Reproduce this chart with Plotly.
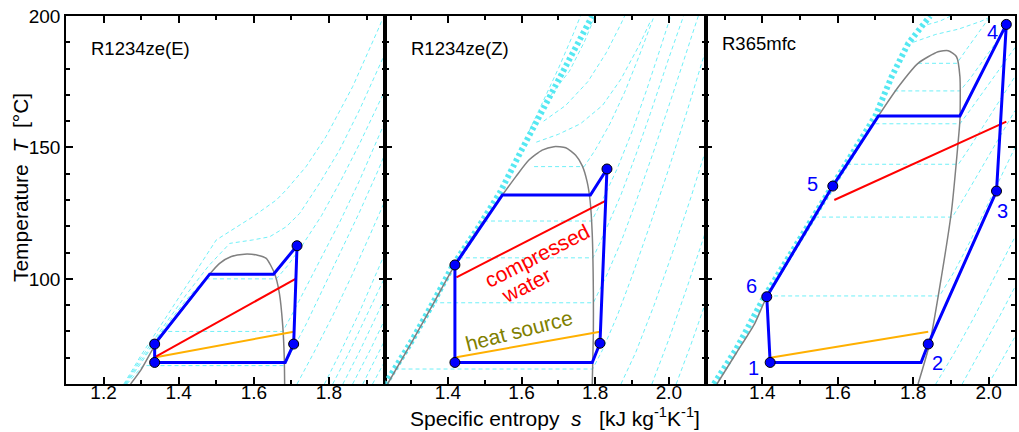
import plotly.graph_objects as go

# ---------------- data ----------------
# panel 1 : R1234ze(E)
p1_cycle_s = [1.336, 1.336, 1.4825, 1.6525, 1.715, 1.706, 1.6835, 1.336]
p1_cycle_T = [68.2, 75.2, 101.8, 101.8, 112.6, 75.2, 68.2, 68.2]
p1_pts_s = [1.336, 1.336, 1.715, 1.706]
p1_pts_T = [68.2, 75.2, 112.6, 75.2]
p1_dome_s = [1.272, 1.30, 1.336, 1.38, 1.43, 1.4825, 1.509, 1.54, 1.575, 1.61, 1.633, 1.655, 1.668, 1.677, 1.681, 1.682]
p1_dome_T = [60, 65.5, 74.5, 83, 92, 101.8, 105.9, 108.5, 109.4, 109, 107.8, 102.1, 94.5, 82, 70, 60]
p1_water_s = [1.339, 1.711]
p1_water_T = [70.4, 100]
p1_source_s = [1.339, 1.706]
p1_source_T = [70.2, 79.9]
p1_iso_s = [
    [1.262, 1.305, 1.681, 1.70, 1.74, 1.78, 1.83, 1.88, 1.93, 1.95],
    [1.260, 1.30, 1.355, 1.677, 1.70, 1.74, 1.78, 1.83, 1.88, 1.93, 1.95],
    [1.258, 1.30, 1.36, 1.42, 1.47, 1.66, 1.69, 1.73, 1.78, 1.83, 1.88, 1.93, 1.95],
    [1.256, 1.30, 1.36, 1.42, 1.48, 1.536, 1.597, 1.642, 1.686, 1.722, 1.775, 1.828, 1.881, 1.934, 1.95],
    [1.254, 1.30, 1.36, 1.42, 1.46, 1.50, 1.597, 1.660, 1.686, 1.739, 1.792, 1.863, 1.934, 1.94],
    [1.715, 1.76, 1.81, 1.86, 1.91, 1.95],
    [1.788, 1.83, 1.88, 1.93, 1.95],
    [1.810, 1.85, 1.90, 1.95],
    [1.837, 1.88, 1.93, 1.95],
    [1.863, 1.91, 1.95],
    [1.890, 1.93, 1.95],
    [1.916, 1.95],
]
p1_iso_T = [
    [60, 67, 67, 72, 83, 95, 110, 125, 141, 148],
    [60, 68, 80, 80, 86, 97, 108, 122, 137, 153, 160],
    [60, 69, 81, 92, 100, 100, 105, 113, 124, 137, 151, 166, 172],
    [60, 70, 82, 94, 105, 113.5, 114.8, 116, 119.8, 124.9, 136.4, 149, 164.2, 180.7, 186],
    [60, 71, 84, 97, 106, 114.8, 123.6, 130, 133.8, 142.7, 154.1, 173.1, 195.9, 198],
    [60, 72, 86, 101, 117, 130],
    [60, 72, 87, 103, 110],
    [60, 71, 86, 101],
    [60, 72, 87, 93],
    [60, 73, 85],
    [60, 71, 77],
    [60, 69],
]

# panel 2 : R1234ze(Z)
p2_cycle_s = [1.419, 1.419, 1.548, 1.787, 1.832, 1.813, 1.792, 1.419]
p2_cycle_T = [68.2, 105.3, 131.9, 131.9, 141.8, 75.5, 68.2, 68.2]
p2_pts_s = [1.419, 1.419, 1.832, 1.813]
p2_pts_T = [68.2, 105.3, 141.8, 75.5]
p2_dome_s = [1.236, 1.30, 1.36, 1.419, 1.48, 1.548, 1.585, 1.62, 1.656, 1.688, 1.72, 1.747, 1.765, 1.778, 1.786, 1.792, 1.795, 1.795, 1.792]
p2_dome_T = [60, 75.5, 90.5, 105.3, 118.5, 131.9, 139, 145.2, 149, 150.3, 149.9, 147, 143, 137, 130, 117, 95, 79, 60]
p2_water_s = [1.423, 1.828]
p2_water_T = [100.6, 129.7]
p2_source_s = [1.423, 1.813]
p2_source_T = [70.2, 79.9]
p2_band_s = [1.230, 1.30, 1.36, 1.413, 1.48, 1.542, 1.60, 1.661, 1.72, 1.792]
p2_band_T = [60, 76, 91, 105, 119, 133, 149, 165.5, 181, 200]
p2_iso_s = [
    [1.634, 1.77, 1.80, 1.84, 1.88, 1.92, 1.96],
    [1.498, 1.79, 1.82, 1.86, 1.90, 1.94, 1.98, 2.005],
    [1.43, 1.794, 1.83, 1.87, 1.91, 1.95, 2.00, 2.04],
    [1.36, 1.795, 1.83, 1.87, 1.91, 1.96, 2.01, 2.06, 2.08],
    [1.255, 1.793, 1.82, 1.86, 1.90, 1.95, 2.00, 2.05, 2.10],
    [1.87, 1.91, 1.96, 2.01, 2.06, 2.10],
    [1.954, 2.00, 2.05, 2.10],
    [2.02, 2.06, 2.10],
    [1.64, 1.70, 1.76, 1.82, 1.87, 1.92, 1.95],
    [1.66, 1.72, 1.78, 1.83, 1.87, 1.88],
    [1.68, 1.73, 1.77, 1.80],
    [1.62, 1.66, 1.70, 1.74, 1.76],
]
p2_iso_T = [
    [142.7, 142.7, 149, 159, 171, 185, 200],
    [122, 122, 130, 142, 156, 172, 189, 200],
    [108, 108, 119, 132, 147, 163, 184, 200],
    [90.9, 90.9, 101, 114, 129, 149, 170, 192, 200],
    [65.7, 65.7, 73, 86, 101, 121, 142, 164, 187],
    [60, 72, 90, 110, 131, 149],
    [60, 77, 97, 118],
    [60, 75, 91],
    [152, 155, 159, 166, 176, 189, 198],
    [160, 166, 175, 186, 197, 200],
    [170, 179, 190, 200],
    [156, 168, 180, 193, 200],
]

# panel 3 : R365mfc
p3_cycle_s = [1.421, 1.412, 1.587, 1.708, 1.924, 2.047, 2.021, 1.84, 1.821, 1.421]
p3_cycle_T = [68.2, 93.2, 135.3, 162, 162, 196.8, 133.4, 75.2, 68.2, 68.2]
p3_pts_s = [1.421, 1.84, 2.021, 2.047, 1.587, 1.412]
p3_pts_T = [68.2, 75.2, 133.4, 196.8, 135.3, 93.2]
p3_pt_labels = ["1", "2", "3", "4", "5", "6"]
p3_lab_s = [1.377, 1.864, 2.038, 2.010, 1.533, 1.3725]
p3_lab_T = [66, 67.9, 125.8, 194, 136, 97.4]
p3_dome_s = [1.28, 1.33, 1.38, 1.412, 1.50, 1.587, 1.65, 1.708, 1.761, 1.813, 1.866, 1.893, 1.915, 1.924, 1.924, 1.919, 1.902, 1.875, 1.844, 1.813]
p3_dome_T = [60, 71.5, 83, 93.2, 114, 135.3, 149, 162, 173.1, 182, 186.4, 186.8, 184.5, 176.9, 160.4, 151.6, 126.2, 100.8, 75.5, 60]
p3_water_s = [1.591, 2.047]
p3_water_T = [130, 159.8]
p3_source_s = [1.421, 1.84]
p3_source_T = [70, 79.9]
p3_band_s = [1.272, 1.33, 1.405, 1.50, 1.582, 1.70, 1.743, 1.787, 1.845]
p3_band_T = [60, 73, 93, 115, 135, 162, 176.9, 189.6, 200]
p3_iso_s = [
    [1.813, 1.916, 1.94, 1.97, 2.00],
    [1.75, 1.924, 1.95, 1.98, 2.02, 2.06],
    [1.70, 1.924, 1.95, 1.98, 2.02, 2.07],
    [1.625, 1.92, 1.95, 1.99, 2.03, 2.07],
    [1.54, 1.904, 1.94, 1.98, 2.02, 2.07],
    [1.413, 1.87, 1.91, 1.95, 1.99, 2.03, 2.07],
    [1.86, 1.91, 1.96, 2.01, 2.07],
    [1.93, 1.98, 2.03, 2.07],
    [2.00, 2.04, 2.07],
    [1.80, 1.86, 1.92, 1.98, 2.01],
    [1.82, 1.87, 1.90],
]
p3_iso_T = [
    [182, 182, 187, 193, 199],
    [171.5, 171.5, 176, 182, 190, 198],
    [159, 159, 164, 170, 178, 188],
    [143.6, 143.6, 150, 159, 168, 177],
    [123.5, 123.5, 132, 142, 152, 164],
    [93.5, 93.5, 103, 114, 126, 138, 150],
    [60, 72, 85, 99, 116],
    [60, 73, 86, 97],
    [60, 70, 78],
    [190, 193, 195, 198, 200],
    [196, 198, 200],
]

fluid_names = ["R1234ze(E)", "R1234ze(Z)", "R365mfc"]
x_ranges = [[1.1, 1.95], [1.23, 2.1], [1.25, 2.07]]
T_range = [60, 200]

# ---------------- styles ----------------
FONT = "Arial, Liberation Sans, sans-serif"
ISO_COLOR = "#6ff0f8"
BAND_COLOR = "#55e8f2"
BLUE = "#0000ff"

fig = go.Figure()

panels = [
    dict(cs=p1_cycle_s, cT=p1_cycle_T, ps=p1_pts_s, pT=p1_pts_T, ds=p1_dome_s, dT=p1_dome_T,
         ws=p1_water_s, wT=p1_water_T, ss=p1_source_s, sT=p1_source_T, iso_s=p1_iso_s, iso_T=p1_iso_T,
         bs=None, bT=None),
    dict(cs=p2_cycle_s, cT=p2_cycle_T, ps=p2_pts_s, pT=p2_pts_T, ds=p2_dome_s, dT=p2_dome_T,
         ws=p2_water_s, wT=p2_water_T, ss=p2_source_s, sT=p2_source_T, iso_s=p2_iso_s, iso_T=p2_iso_T,
         bs=p2_band_s, bT=p2_band_T),
    dict(cs=p3_cycle_s, cT=p3_cycle_T, ps=p3_pts_s, pT=p3_pts_T, ds=p3_dome_s, dT=p3_dome_T,
         ws=p3_water_s, wT=p3_water_T, ss=p3_source_s, sT=p3_source_T, iso_s=p3_iso_s, iso_T=p3_iso_T,
         bs=p3_band_s, bT=p3_band_T),
]

for i, p in enumerate(panels):
    xa = "x" if i == 0 else f"x{i+1}"
    ya = "y" if i == 0 else f"y{i+1}"
    common = dict(xaxis=xa, yaxis=ya, showlegend=False, hoverinfo="skip")
    for s_list, t_list in zip(p["iso_s"], p["iso_T"]):
        fig.add_trace(go.Scatter(x=s_list, y=t_list, mode="lines",
                                 line=dict(color=ISO_COLOR, width=1, dash="4px,3px"), **common))
    if p["bs"] is not None:
        fig.add_trace(go.Scatter(x=p["bs"], y=p["bT"], mode="lines",
                                 line=dict(color=BAND_COLOR, width=6, dash="3px,3px"), **common))
    fig.add_trace(go.Scatter(x=p["ds"], y=p["dT"], mode="lines", line_shape="spline",
                             line=dict(color="#808080", width=1.5, smoothing=0.6), **common))
    fig.add_trace(go.Scatter(x=p["ss"], y=p["sT"], mode="lines",
                             line=dict(color="#ffb000", width=2), **common))
    fig.add_trace(go.Scatter(x=p["ws"], y=p["wT"], mode="lines",
                             line=dict(color="#ff0000", width=2), **common))
    fig.add_trace(go.Scatter(x=p["cs"], y=p["cT"], mode="lines",
                             line=dict(color=BLUE, width=3), **common))
    fig.add_trace(go.Scatter(x=p["ps"], y=p["pT"], mode="markers",
                             marker=dict(color=BLUE, size=10, line=dict(color="black", width=1)), **common))

# ---------------- axes ----------------
W, H = 1019, 432
ml, mr, mt, mb = 66, 2, 16, 48
pw = W - ml - mr
ph = H - mt - mb
edges = [66, 386, 707, 1017]
domains = [[(edges[k] - ml) / pw, (edges[k + 1] - ml) / pw] for k in range(3)]

axis_common = dict(showline=True, linecolor="black", linewidth=1.5, mirror="ticks",
                   ticks="inside", ticklen=7, tickwidth=1.5, tickcolor="black",
                   showgrid=False, zeroline=False,
                   tickfont=dict(family=FONT, size=19, color="black"))

layout = dict(width=W, height=H, margin=dict(l=ml, r=mr, t=mt, b=mb),
              paper_bgcolor="white", plot_bgcolor="white",
              font=dict(family=FONT, color="black"))
for i in range(3):
    xk = "xaxis" if i == 0 else f"xaxis{i+1}"
    yk = "yaxis" if i == 0 else f"yaxis{i+1}"
    xa = "x" if i == 0 else f"x{i+1}"
    ya = "y" if i == 0 else f"y{i+1}"
    layout[xk] = dict(axis_common, domain=domains[i], range=x_ranges[i], anchor=ya,
                      tick0=1.0, dtick=0.2, tickformat=".1f", ticklabelstandoff=-10,
                      minor=dict(dtick=0.1, tick0=1.0, ticks="inside", ticklen=4,
                                 tickwidth=1.5, tickcolor="black"))
    layout[yk] = dict(axis_common, domain=[0, 1], range=T_range, anchor=xa,
                      tick0=0, dtick=50, showticklabels=(i == 0),
                      minor=dict(dtick=10, tick0=0, ticks="inside", ticklen=4,
                                 tickwidth=1.5, tickcolor="black"))
fig.update_layout(**layout)

# ---------------- annotations ----------------
ann = []
lab_pos = [(1.161, 187.6), (1.293, 187.6), (1.289, 189.4)]
for i, name in enumerate(fluid_names):
    xa = "x" if i == 0 else f"x{i+1}"
    ya = "y" if i == 0 else f"y{i+1}"
    ann.append(dict(x=lab_pos[i][0], y=lab_pos[i][1], xref=xa, yref=ya, text=name,
                    showarrow=False, xanchor="left", yanchor="middle",
                    font=dict(family=FONT, size=18.5, color="black")))

for t, s, T in zip(p3_pt_labels, p3_lab_s, p3_lab_T):
    ann.append(dict(x=s, y=T, xref="x3", yref="y3", text=t, showarrow=False,
                    xanchor="center", yanchor="middle",
                    font=dict(family=FONT, size=20, color=BLUE)))

ann.append(dict(x=1.643, y=108.8, xref="x2", yref="y2", text="compressed", showarrow=False,
                xanchor="center", yanchor="middle",
                textangle=-27, font=dict(family=FONT, size=21, color="#ff0000")))
ann.append(dict(x=1.611, y=97.5, xref="x2", yref="y2", text="water", showarrow=False,
                xanchor="center", yanchor="middle",
                textangle=-27, font=dict(family=FONT, size=21, color="#ff0000")))
ann.append(dict(x=1.593, y=80.5, xref="x2", yref="y2", text="heat source", showarrow=False,
                xanchor="center", yanchor="middle",
                textangle=-14.4, font=dict(family=FONT, size=21, color="#808000")))

ann.append(dict(x=(556 - ml) / pw, y=(384 - 417) / ph,
                xref="paper", yref="paper", showarrow=False,
                xanchor="center", yanchor="middle",
                text="Specific entropy  <i>s</i>   [kJ kg<sup>-1</sup>K<sup>-1</sup>]",
                font=dict(family=FONT, size=21, color="black")))
ann.append(dict(x=(20 - ml) / pw, y=(384 - 188) / ph, xref="paper", yref="paper",
                showarrow=False, textangle=-90, xanchor="center", yanchor="middle",
                text="Temperature  <i>T</i>  [°C]",
                font=dict(family=FONT, size=21, color="black")))
fig.update_layout(annotations=ann)

fig.write_html("out.html")
